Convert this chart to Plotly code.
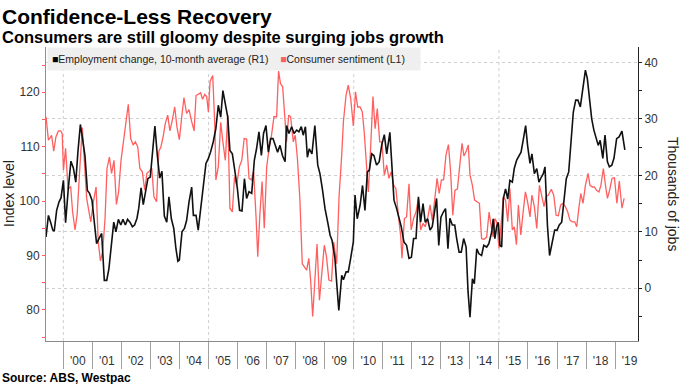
import plotly.graph_objects as go
import pandas as pd

# ---------------- data ----------------
# time positions are months elapsed since late May 1999 (left edge of the chart)
emp_months = [
    0.0, 1.0, 1.9, 2.8, 3.4, 4.4, 5.4, 6.2, 7.2, 8.1,
    9.2, 10.3, 11.3, 12.3, 13.2, 14.2, 15.2, 16.1, 17.1, 18.0,
    19.0, 20.0, 20.9, 21.9, 23.0, 24.1, 25.1, 26.0, 27.0, 28.0,
    28.9, 29.9, 30.9, 31.8, 32.8, 33.7, 34.7, 35.7, 36.6, 37.6,
    38.3, 39.3, 40.2, 41.2, 42.1, 43.1, 44.1, 45.0, 46.0, 47.0,
    47.9, 48.9, 49.9, 50.8, 51.8, 52.8, 53.7, 54.5, 55.1, 56.2,
    57.2, 58.1, 59.1, 60.2,
    60.9, 62.0, 62.9, 64.3, 65.3, 66.1, 67.1, 68.0, 69.1, 70.2,
    71.2, 72.2, 73.1, 74.1, 75.1, 76.0, 77.0, 78.1, 79.1, 80.0,
    81.0, 82.0, 82.9, 83.9, 85.0, 86.1, 87.0, 88.0, 89.0, 89.9,
    90.9, 91.9, 92.8, 93.8, 94.8, 95.7, 96.7, 97.7, 98.8, 99.4,
    100.4, 101.5, 102.5, 103.6, 104.5, 105.5, 106.3, 107.2, 108.0, 108.8,
    109.9, 111.1, 112.3, 113.2, 114.2, 115.3, 116.4, 117.4, 118.2, 119.4,
    120.2, 121.0, 122.2,
    122.9, 124.0, 124.9, 125.9, 127.0, 127.7, 128.6, 129.8, 130.8, 131.8,
    132.8, 133.6, 134.6, 135.5, 136.6, 137.7, 138.7, 139.8, 140.8, 142.1,
    143.1, 143.8, 144.9, 145.9, 146.8, 147.9, 149.0, 150.0, 151.0, 151.9,
    152.9, 153.9, 154.8, 155.8, 156.7, 157.7, 158.7, 159.6, 160.6, 161.4,
    162.3, 163.2, 164.2, 165.1, 166.1, 166.9, 167.9, 168.9, 169.7, 170.7,
    171.6, 172.6, 173.6, 174.4, 175.2, 176.2, 177.0, 178.0, 178.9, 180.0,
    180.9, 182.1, 183.0,
    184.2, 184.8, 185.5, 186.2, 186.9, 187.6, 188.3, 189.0, 189.9, 190.8,
    191.7, 192.7, 193.5, 194.5, 195.5, 196.3, 197.3, 198.2, 199.0, 200.0,
    200.8, 201.8, 202.8, 203.7, 204.7, 205.5, 206.2, 207.2, 208.1, 209.2,
    210.2, 211.2, 212.1, 213.1, 214.0, 215.0, 216.0, 216.9, 217.9, 218.9,
    219.8, 220.8, 221.8, 222.9, 223.7, 224.7, 225.5, 226.4, 227.4, 228.2,
    229.0, 230.1, 231.0, 232.0, 232.8, 233.8, 234.7, 235.8, 236.8, 238.0,
    239.2,
]
# Employment change, 10-month average, thousands of jobs (right axis)
emp_values = [
    9.1, 12.9, 11.7, 10.3, 10.1, 13.8, 15.3, 16.0, 19.1, 11.6,
    17.6, 22.5, 21.3, 18.8, 24.2, 29.0, 26.2, 23.5, 17.3, 16.8,
    15.6, 11.7, 7.9, 8.8, 9.7, 1.4, 1.4, 3.5, 7.9, 11.7,
    10.0, 12.2, 11.2, 12.2, 11.2, 12.2, 11.7, 10.9, 11.2, 12.4,
    14.1, 17.8, 14.8, 17.1, 19.4, 19.7, 25.3, 28.7, 23.5, 19.5,
    20.7, 12.8, 11.7, 16.2, 12.3, 10.6, 7.0, 4.8, 5.0, 10.0,
    10.6, 12.0, 15.3, 17.9,
    12.9, 12.9, 10.3, 15.9, 18.8, 22.1, 23.0, 24.1, 25.9, 28.3,
    32.4, 30.3, 35.0, 32.7, 30.3, 24.4, 23.8, 20.6, 17.6, 13.8,
    13.7, 19.4, 15.9, 17.1, 16.8, 22.7, 24.7, 27.7, 23.5, 27.4,
    28.8, 24.1, 26.5, 26.5, 25.3, 24.1, 25.3, 23.5, 22.4, 28.8,
    27.4, 28.6, 27.4, 28.0, 27.7, 28.6, 27.1, 28.6, 23.2, 24.7,
    23.8, 28.8, 21.8, 20.3, 17.6, 14.1, 11.7, 9.4, 8.5, 5.3,
    0.5, -3.9, 2.3,
    1.5, 2.9, 2.9, 5.3, 8.2, 16.5, 12.3, 14.7, 18.2, 13.8,
    20.6, 20.9, 23.8, 23.5, 21.8, 22.4, 25.3, 27.2, 23.8, 27.6,
    19.4, 15.6, 14.1, 12.3, 10.9, 8.2, 7.6, 5.3, 5.5, 8.8,
    8.8, 16.2, 11.7, 15.0, 11.7, 12.3, 10.3, 10.9, 13.5, 15.9,
    7.6, 12.6, 13.5, 14.1, 7.0, 12.4, 11.2, 11.2, 8.8, 6.4,
    6.4, 8.8, 7.3, -0.6, -5.1, 1.7, 0.8, 7.0, 6.1, 5.8,
    7.6, 7.3, 7.9,
    10.0, 12.3, 8.8, 10.9, 11.7, 7.6, 7.3, 15.9, 17.6, 15.8,
    19.1, 18.8, 21.2, 22.7, 23.5, 24.1, 26.5, 28.8, 25.3, 22.1,
    23.8, 20.3, 21.2, 18.8, 19.7, 20.3, 21.5, 11.2, 5.8, 8.2,
    10.3, 10.3, 11.2, 11.7, 15.3, 19.4, 20.6, 25.9, 31.2, 33.3,
    33.3, 32.1, 35.3, 38.6, 37.1, 32.4, 30.0, 28.0, 26.5, 25.3,
    26.2, 23.0, 27.1, 22.4, 21.5, 21.8, 23.0, 26.5, 26.8, 27.8,
    24.5,
]

sent_months = [
    0.0, 1.0, 1.7, 2.3, 3.2, 4.1, 5.1, 6.1, 6.7, 7.2,
    8.1, 9.1, 10.2, 11.0, 12.0, 12.9, 13.8, 15.0, 15.7, 16.8,
    17.9, 18.5, 19.6, 20.7, 21.6, 22.5, 23.4, 24.4, 25.2, 26.2,
    27.1, 28.1, 29.1, 30.0, 31.0, 32.0, 32.9, 34.0, 35.0, 36.0,
    36.9, 37.9, 38.8, 39.8, 40.8, 41.7, 42.7, 43.7, 44.6, 45.7,
    46.6, 47.5, 48.5, 49.3, 50.3, 51.2, 52.2, 53.2, 54.1, 55.1,
    56.1, 57.0, 58.1, 59.1, 60.2,
    61.2, 62.0, 62.9, 63.9, 64.7, 65.6, 66.4, 67.1, 67.8, 68.9,
    69.8, 70.2, 71.2, 72.2, 73.0, 74.1, 75.1, 76.0, 77.0, 77.9,
    78.8, 79.9, 80.9, 81.9, 82.9, 83.9, 84.9, 85.8, 86.8, 87.5,
    88.4, 89.3, 90.2, 91.2, 92.2, 93.1, 94.2, 95.3, 96.1, 96.9,
    97.8, 98.8, 99.4, 100.3, 101.1, 102.2, 103.0, 103.9, 104.9, 105.9,
    106.9, 107.7, 108.6, 109.4, 110.2, 111.2, 112.0, 113.0, 113.9, 115.0,
    115.9, 116.9, 118.0, 118.9, 120.1, 121.1,
    122.2, 122.9, 124.0, 124.9, 125.9, 127.0, 127.9, 128.8, 129.8, 130.7,
    131.5, 132.5, 133.2, 134.2, 135.1, 136.0, 136.9, 137.9, 138.8, 139.8,
    140.8, 141.7, 142.7, 143.7, 144.6, 145.6, 146.6, 147.1, 148.1, 149.0,
    150.0, 150.9, 151.9, 152.9, 153.9, 154.8, 155.8, 156.7, 157.7, 158.7,
    159.6, 160.6, 161.6, 162.5, 163.4, 164.3, 165.3, 166.3, 167.2, 168.1,
    169.0, 170.0, 170.8, 171.9, 172.7, 173.6, 174.5, 175.2, 176.2, 177.1,
    178.1, 179.1, 180.0, 181.0, 182.1, 183.1,
    184.2, 184.8, 185.5, 186.2, 187.2, 188.0, 189.0, 189.9, 190.8, 191.7,
    192.7, 193.5, 194.4, 195.2, 196.2, 197.1, 198.1, 199.0, 200.0, 200.8,
    201.8, 202.8, 203.9, 204.8, 205.8, 206.6, 207.6, 208.8, 209.8, 210.8,
    211.7, 212.7, 213.6, 214.6, 215.6, 216.5, 217.5, 218.5, 219.3, 220.2,
    221.0, 221.9, 222.9, 224.0, 224.8, 225.8, 226.6, 227.5, 228.5, 229.3,
    230.3, 231.2, 232.0, 232.9, 233.9, 234.9, 235.9, 236.9, 238.0, 238.9,
]
# Consumer sentiment index (left axis)
sent_values = [
    115.5, 111.2, 111.6, 112.1, 109.2, 111.8, 112.9, 112.9, 112.4, 105.7,
    109.7, 102.3, 102.6, 98.0, 94.7, 97.7, 104.8, 113.5, 108.5, 100.5,
    97.7, 96.2, 99.9, 102.6, 92.5, 89.0, 90.7, 96.8, 106.0, 108.1,
    105.1, 107.5, 99.4, 101.7, 107.5, 110.9, 114.0, 117.8, 111.5, 110.3,
    110.9, 110.0, 106.0, 105.4, 102.0, 105.1, 105.5, 106.1, 100.8, 99.9,
    109.1, 110.0, 112.1, 114.3, 115.8, 112.9, 114.9, 117.3, 113.7, 111.3,
    115.5, 119.0, 116.1, 116.8, 114.6,
    112.9, 119.4, 119.6, 119.9, 118.7, 119.6, 119.2, 116.4, 122.0, 123.1,
    113.4, 103.9, 106.3, 114.5, 111.2, 107.5, 115.8, 98.7, 98.0, 104.5,
    102.9, 106.3, 107.5, 111.5, 111.4, 104.2, 103.9, 105.4, 97.1, 89.8,
    97.7, 103.6, 95.0, 106.3, 109.7, 111.8, 115.5, 115.5, 123.9, 121.6,
    121.0, 114.0, 110.9, 115.8, 115.5, 110.9, 112.1, 107.8, 100.5, 88.5,
    87.9, 87.3, 89.5, 85.2, 78.8, 85.8, 92.1, 81.8, 85.8, 91.9,
    89.8, 85.5, 85.3, 92.5, 88.5, 100.8,
    108.5, 114.6, 119.5, 121.3, 118.9, 113.8, 120.1, 117.3, 117.3, 116.4,
    112.7, 105.4, 101.7, 110.3, 119.2, 113.3, 117.0, 110.9, 110.9, 104.8,
    106.6, 104.2, 105.4, 102.9, 102.3, 97.4, 93.4, 89.5, 96.8, 97.1,
    103.2, 94.7, 96.8, 98.0, 100.5, 94.7, 95.9, 95.3, 96.8, 99.3,
    96.5, 100.2, 104.2, 101.4, 103.9, 103.9, 108.5, 110.4, 105.4, 97.4,
    102.0, 102.2, 106.0, 110.6, 108.3, 109.1, 110.3, 104.8, 102.9, 100.2,
    99.9, 99.6, 93.1, 93.0, 93.4, 98.0,
    94.7, 93.4, 96.8, 96.2, 91.3, 95.6, 100.8, 100.2, 96.2, 102.3,
    94.7, 95.3, 92.0, 99.3, 93.8, 97.7, 101.7, 99.9, 97.1, 101.1,
    99.0, 95.0, 102.9, 101.1, 99.0, 100.8, 101.1, 102.2, 101.1, 97.4,
    97.3, 99.3, 99.6, 99.0, 98.0, 96.5, 96.2, 96.2, 95.3, 98.7,
    101.4, 99.6, 102.9, 105.1, 102.9, 102.6, 102.6, 102.0, 101.7, 102.9,
    106.0, 102.9, 100.5, 102.0, 104.2, 104.3, 99.6, 103.7, 98.7, 100.5,
]

years = list(range(2000, 2020))
year_labels = ["'" + str(y)[2:] for y in years]
grid_years = [2000, 2005, 2010, 2015]

emp_name = "Employment change, 10-month average (R1)"
sent_name = "Consumer sentiment (L1)"

# ---------------- build ----------------
START = pd.Timestamp("1999-05-28")
END = pd.Timestamp("2019-10-16")


def to_date(m):
    return START + pd.Timedelta(days=m * 30.4375)


emp_dates = [to_date(m) for m in emp_months]
sent_dates = [to_date(m) for m in sent_months]

RED = "#ff5f5f"
INK = "#222222"

fig = go.Figure()
fig.add_trace(go.Scatter(x=sent_dates, y=sent_values, name=sent_name, mode="lines",
                         line=dict(color=RED, width=1.3), yaxis="y", showlegend=False))
fig.add_trace(go.Scatter(x=emp_dates, y=emp_values, name=emp_name, mode="lines",
                         line=dict(color="#111111", width=1.6), yaxis="y2", showlegend=False))

W, H = 683, 384
ML, MR, MT, MB = 46, 45, 47, 43
PW, PH = W - ML - MR, H - MT - MB


def px_x(px):
    return (px - ML) / PW


def px_y(py):
    return (H - MB - py) / PH


fig.update_layout(
    width=W, height=H,
    margin=dict(l=ML, r=MR, t=MT, b=MB, autoexpand=False),
    paper_bgcolor="white", plot_bgcolor="white",
    font=dict(family="Liberation Sans, Arial, sans-serif", color=INK, size=12),
    xaxis=dict(
        type="date", range=[START, END],
        tickmode="array",
        tickvals=[pd.Timestamp(f"{y}-07-02") for y in years],
        ticktext=year_labels,
        ticks="outside", ticklen=9, tickcolor="rgba(0,0,0,0)",
        tickfont=dict(size=12, color="#333333"),
        showline=True, linecolor="#8a8a8a", linewidth=1,
        showgrid=False, zeroline=False,
        minor=dict(tickmode="array",
                   tickvals=[pd.Timestamp(f"{y}-01-01") for y in years],
                   ticks="outside", ticklen=27, tickwidth=1, tickcolor="#a0a0a0",
                   showgrid=False),
    ),
    yaxis=dict(
        side="left", range=[74.30, 128.32],
        tickmode="linear", tick0=0, dtick=10,
        ticks="outside", ticklen=3, tickcolor=RED,
        minor=dict(dtick=5, tick0=0, ticks="outside", ticklen=3, tickcolor=RED),
        showline=True, linecolor=RED, linewidth=1,
        showgrid=False, zeroline=False,
        tickfont=dict(size=12, color="#333333"),
    ),
    yaxis2=dict(
        overlaying="y", side="right", range=[-9.33, 42.71],
        tickmode="linear", tick0=0, dtick=10,
        ticks="outside", ticklen=3, tickcolor="#222222",
        minor=dict(dtick=5, tick0=0, ticks="outside", ticklen=3, tickcolor="#222222"),
        showline=True, linecolor="#222222", linewidth=1,
        showgrid=True, gridcolor="#cfcfcf", griddash="dot", gridwidth=1,
        zeroline=False,
        tickfont=dict(size=12, color="#333333"),
    ),
)

for gy in grid_years:
    fig.add_shape(type="line", xref="x", yref="paper",
                  x0=pd.Timestamp(f"{gy}-01-01"), x1=pd.Timestamp(f"{gy}-01-01"),
                  y0=0, y1=1, layer="below",
                  line=dict(color="#cfcfcf", width=1, dash="dot"))

NB = "\u00a0"
legend_text = (f"<span style='color:#000000'>■</span>{emp_name}{NB*4}"
               f"<span style='color:{RED}'>■</span>{sent_name}")

annos = [
    dict(text="<b>Confidence-Less Recovery</b>", x=px_x(0), y=px_y(16.5),
         xanchor="left", yanchor="middle", font=dict(size=21, color="#000000")),
    dict(text="<b>Consumers are still gloomy despite surging jobs growth</b>",
         x=px_x(0), y=px_y(37), xanchor="left", yanchor="middle",
         font=dict(size=16.5, color="#000000")),
    dict(text="<b>Source: ABS, Westpac</b>", x=px_x(0), y=px_y(377.5),
         xanchor="left", yanchor="middle", font=dict(size=12, color="#000000")),
    dict(text="Index level", x=px_x(9), y=0.5, xanchor="center", yanchor="middle",
         textangle=-90, font=dict(size=14, color="#222222")),
    dict(text="Thousands of jobs", x=px_x(673), y=0.5, xanchor="center", yanchor="middle",
         textangle=90, font=dict(size=14, color="#222222")),
    dict(text=legend_text, x=px_x(47), y=1, xanchor="left", yanchor="top",
         align="left", width=364, height=14, borderpad=4, bgcolor="#efefef",
         font=dict(size=10.5, color="#222222")),
]
for a in annos:
    a.update(xref="paper", yref="paper", showarrow=False)
    fig.add_annotation(**a)

fig.write_html("out.html", config={"displayModeBar": False},
               post_script="document.body.style.margin='0';document.body.style.overflow='hidden';")
